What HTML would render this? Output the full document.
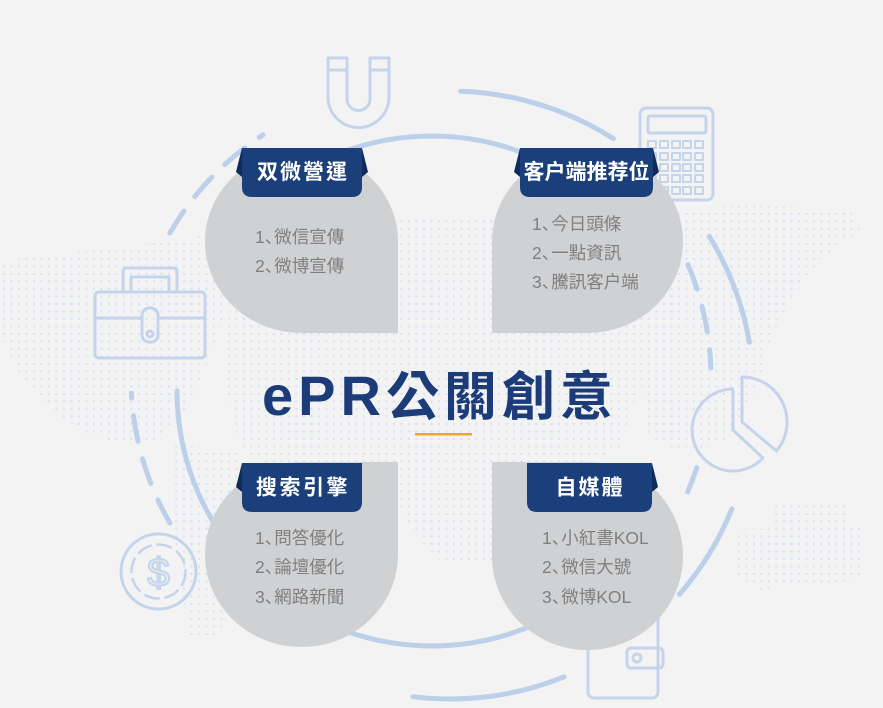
<!DOCTYPE html>
<html><head><meta charset="utf-8"><style>
html,body{margin:0;padding:0;background:#f3f3f4;}
svg{display:block;}
text{font-family:"Liberation Sans","Noto Sans CJK TC",sans-serif;}
.li{font-family:"Liberation Sans","Noto Sans CJK JP",sans-serif;}
</style></head><body>
<svg width="883" height="708" viewBox="0 0 883 708" xmlns="http://www.w3.org/2000/svg">
<defs>
<pattern id="d" width="7.5" height="7.5" patternUnits="userSpaceOnUse"><rect x="2.8" y="2.8" width="2.2" height="2.2" fill="#c4d5ee"/></pattern>
<clipPath id="cl">
<polygon points="0,262 40,255 120,248 200,236 260,230 250,262 230,300 215,345 200,380 185,410 160,440 120,445 80,430 40,400 10,360 0,330"/>
<polygon points="230,300 300,290 400,215 470,215 560,225 620,240 640,300 640,380 620,450 560,470 520,520 500,560 440,560 420,540 400,510 330,500 280,470 240,450 225,380"/>
<polygon points="560,220 650,210 760,205 850,210 860,230 820,260 790,300 770,340 760,380 740,420 720,445 680,450 650,440 640,380 620,300"/>
<polygon points="735,530 860,525 865,580 800,585 760,590 735,575"/>
<polygon points="770,505 850,505 850,530 770,530"/>
<polygon points="175,445 240,450 245,520 235,600 215,640 190,640 180,580 170,500"/>
</clipPath>
</defs>
<rect width="883" height="708" fill="#f3f3f4"/>
<rect width="883" height="708" fill="url(#d)" clip-path="url(#cl)" opacity="0.55"/>

<!-- arcs -->
<g fill="none" stroke="#bcd0ea" stroke-width="5" stroke-linecap="round">
<path d="M460.6,91.2 A304,304 0 0 1 613.3,138.6"/>
<path d="M709.2,236.2 A304,304 0 0 1 749.4,342.2"/>
<path d="M731.9,508.9 A304,304 0 0 1 679.4,594.4"/>
<path d="M563.9,676.9 A304,304 0 0 1 413,696.7"/>
<path d="M285.7,182.1 A255,255 0 0 1 559.5,170.2"/>
<path d="M177,391 A255,255 0 0 0 236.7,554.9"/>
<path d="M559.5,611.8 A255,255 0 0 1 285.7,599.9"/>
</g>
<g fill="none" stroke="#bcd0ea" stroke-width="5" stroke-linecap="round" stroke-dasharray="26 18">
<path d="M169.9,233 A290,290 0 0 1 263.1,134.8"/>
<path d="M169.9,523 A290,290 0 0 1 131.4,393.2"/>
<path d="M688,264.7 A290,290 0 0 1 710.8,367.9"/>
<path d="M696.8,467.6 A290,290 0 0 1 681.6,505.1"/>
</g>

<!-- icons -->
<g fill="none" stroke="#c3d4eb" stroke-width="3" stroke-linejoin="round" stroke-linecap="round">
<path d="M328,58 H347 V99 A11.5,11.5 0 0 0 370,99 V58 H389 V97 A30.5,30.5 0 0 1 328,97 Z"/>
<path d="M328,70 H347 M370,70 H389"/>
<rect x="640" y="108" width="73" height="92" rx="6"/>
<rect x="648" y="116" width="58" height="17" rx="2"/>
<g stroke-width="2">
<rect x="648" y="141" width="8" height="7"/><rect x="660" y="141" width="8" height="7"/><rect x="672" y="141" width="8" height="7"/><rect x="683" y="141" width="8" height="7"/><rect x="695" y="141" width="8" height="7"/>
<rect x="648" y="153" width="8" height="7"/><rect x="660" y="153" width="8" height="7"/><rect x="672" y="153" width="8" height="7"/><rect x="683" y="153" width="8" height="7"/><rect x="695" y="153" width="8" height="7"/>
<rect x="648" y="164" width="8" height="7"/><rect x="660" y="164" width="8" height="7"/><rect x="672" y="164" width="8" height="7"/><rect x="683" y="164" width="8" height="7"/><rect x="695" y="164" width="8" height="7"/>
<rect x="648" y="175" width="8" height="7"/><rect x="660" y="175" width="8" height="7"/><rect x="672" y="175" width="8" height="7"/><rect x="683" y="175" width="8" height="7"/><rect x="695" y="175" width="8" height="7"/>
<rect x="648" y="187" width="8" height="7"/><rect x="660" y="187" width="8" height="7"/><rect x="672" y="187" width="8" height="7"/><rect x="683" y="187" width="8" height="7"/><rect x="695" y="187" width="8" height="7"/>
</g>
<rect x="95" y="292" width="110" height="66" rx="4"/>
<path d="M123,292 V272 Q123,268 127,268 H173 Q177,268 177,272 V292"/>
<path d="M131,292 V277 H169 V292"/>
<path d="M95,318 H142 M158,318 H205"/>
<rect x="142" y="308" width="16" height="34" rx="7"/>
<circle cx="150" cy="334" r="3"/>
<path d="M733,430 L733,389 A41,41 0 1 0 763,458 Z"/>
<path d="M742,422 L742,377 A45,45 0 0 1 776.5,450.9 Z"/>
<circle cx="158.5" cy="571.5" r="37.5"/>
<circle cx="158.5" cy="571.5" r="27" stroke-dasharray="14 7" stroke-width="2.5"/>
<rect x="588" y="590" width="70" height="108" rx="6"/>
<rect x="627" y="648" width="36" height="20" rx="4"/>
<circle cx="637" cy="658" r="4"/>
</g>
<text x="158.5" y="586" text-anchor="middle" font-size="40" fill="none" stroke="#c3d4eb" stroke-width="2.2">$</text>

<!-- blobs -->
<g fill="#d0d1d3">
<path d="M398,333 L301.5,333 A96.5,91.5 0 0 1 205,241.5 A96.5,91.5 0 0 1 301.5,150 A96.5,91.5 0 0 1 398,241.5 Z"/>
<path d="M492,333 L492,241.5 A95.5,91.5 0 0 1 587.5,150 A95.5,91.5 0 0 1 683,241.5 A95.5,91.5 0 0 1 587.5,333 Z"/>
<path d="M398,462 L398,554.5 A96.5,92.5 0 0 1 301.5,647 A96.5,92.5 0 0 1 205,554.5 A96.5,92.5 0 0 1 301.5,462 Z"/>
<path d="M492,462 L587.5,462 A95.5,94 0 0 1 683,556 A95.5,94 0 0 1 587.5,650 A95.5,94 0 0 1 492,556 Z"/>
</g>

<!-- tabs -->
<g fill="#0e2b59">
<path d="M242,148 L236,172 L242,177 Z"/><path d="M362,148 L368,172 L362,177 Z"/>
<path d="M520,148 L514,172 L520,177 Z"/><path d="M653,148 L659,172 L653,177 Z"/>
<path d="M242,463 L236,487 L242,492 Z"/>
<path d="M652,463 L658,487 L652,492 Z"/>
</g>
<g fill="#1a3f7b">
<path d="M242,148 H362 V187 Q362,197 352,197 H252 Q242,197 242,187 Z"/>
<path d="M520,148 H653 V187 Q653,197 643,197 H530 Q520,197 520,187 Z"/>
<path d="M242,463 H362 V502 Q362,512 352,512 H252 Q242,512 242,502 Z"/>
<path d="M527,463 H652 V502 Q652,512 642,512 H537 Q527,512 527,502 Z"/>
</g>
<g fill="#ffffff" font-size="21" font-weight="bold" text-anchor="middle" dominant-baseline="central">
<text x="303" y="172.5" letter-spacing="2">双微營運</text>
<text x="586.5" y="172.5">客户端推荐位</text>
<text x="303" y="488" letter-spacing="2.5">搜索引擎</text>
<text x="590" y="488" letter-spacing="2">自媒體</text>
</g>

<!-- lists -->
<g fill="#808080" font-size="17.5" dominant-baseline="central">
<text class="li" x="255" y="237">1、<tspan dx="-8">微信宣傳</tspan></text>
<text class="li" x="255" y="266">2、<tspan dx="-8">微博宣傳</tspan></text>
<text class="li" x="532" y="224">1、<tspan dx="-8">今日頭條</tspan></text>
<text class="li" x="532" y="253">2、<tspan dx="-8">一點資訊</tspan></text>
<text class="li" x="532" y="282">3、<tspan dx="-8">騰訊客户端</tspan></text>
<text class="li" x="255" y="538">1、<tspan dx="-8">問答優化</tspan></text>
<text class="li" x="255" y="567">2、<tspan dx="-8">論壇優化</tspan></text>
<text class="li" x="255" y="597">3、<tspan dx="-8">網路新聞</tspan></text>
<text class="li" x="542" y="538">1、<tspan dx="-8">小紅書KOL</tspan></text>
<text class="li" x="542" y="567">2、<tspan dx="-8">微信大號</tspan></text>
<text class="li" x="542" y="597">3、<tspan dx="-8">微博KOL</tspan></text>
</g>

<!-- title -->
<text x="262" y="415" fill="#1b3c78" font-weight="bold" letter-spacing="5"><tspan font-size="56">ePR</tspan><tspan font-size="53">公關創意</tspan></text>
<rect x="415" y="433" width="57" height="2.5" fill="#e7a73b"/>
</svg>
</body></html>
